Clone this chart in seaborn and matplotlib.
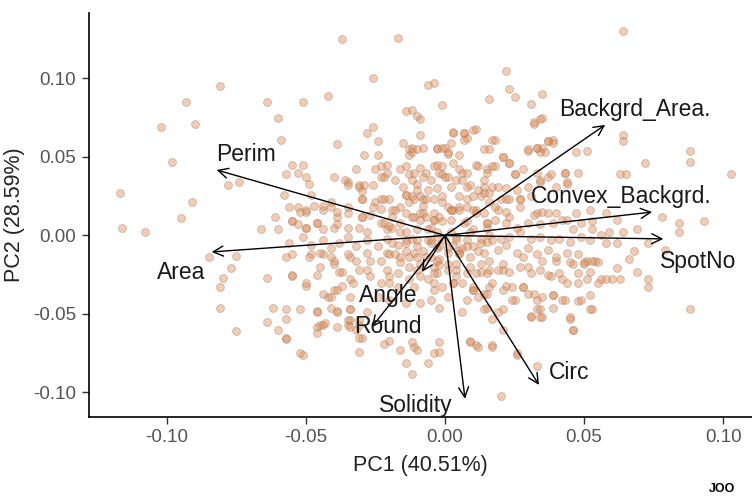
import numpy as np
import pandas as pd
import matplotlib
matplotlib.use("Agg")
import matplotlib.pyplot as plt
import seaborn as sns

# ---- scores (PC1, PC2) x1000 ----
pc1_k = [
 -37,-26,-81,-93,-64,-51,-42,-60,-102,-90,-59,-39,-26,-28,-98,-78,-74,-117,-91,-95,-116,-108,-32,-29,-40,-55,-51,-57,-53,-50,-49,-35,-31,-58,-48,-56,-52,-50,-61,-47,-44,-41,-39,-35,-66,-60,-55,-50,-46,-40,-30,-30,
 -85,-75,-77,-80,-81,-81,-75,-64,-62,-64,-60,-57,-57,-51,-55,-57,-50,-46,-45,-43,-39,-34,-34,-35,-31,-30,-31,-42,-40,-37,-37,-46,-45,-40,-48,-44,-41,-34,-28,-33,-27,
 88,73,73,69,63,60,55,62,52,53,48,46,45,43,39,34,31,34,33,30,26,33,20,17,11,9,-2,-11,-22,-14,-6,-12,6,14,17,10,15,25,22,28,21,37,42,48,52,50,54,45,40,35,30,28,
 64,-17,22,23,25,16,35,31,35,32,-6,-4,-1,-14,-12,-10,-9,3,7,8,10,18,64,64,88,88,103,72,63,65,47,51,30,33,35,37,39,36,34,43,48,44,78,84,93,84,69,-24,-15,-12,-13,-8,-3,0,3,11,15,18,21,23,25,6,-4,-7,-10,-1,8,14,17,22,30,34,37,40,27,-23,-21,-18,-15,-20,-13,-7,-1,3,11,18,23,33,37,42,47,52,58,62,-19,-9,-4,7,15,26,46,53,59,64,
 -9,-10,-13,-12,-3,-1,1,-24,-21,-25,-23,-22,-36,-35,-31,-29,-26,-30,-30,-23,-25,-26,-23,-16,-14,-13,-11,-9,-8,-12,-5,-3,-2,0,-3,-1,1,-14,-12,-10,-8,-6,-4,-18,-16,-14,-12,-9,-7,-4,-2,-53,-50,-44,-41,-39,-35,-30,-27,
 -55,-53,-50,-46,-44,-39,-35,-31,-28,-23,-21,-19,-16,-14,-10,-5,-3,
 32,34,3,7,11,7,17,14,2,1,5,16,21,23,17,15,14,12,8,5,4,1,-1,30,33,37,39,25,28,33,34,38,43,44,2,6,9,12,5,8,13,16,19,22,26,20,23,27,31,
 2,5,10,14,19,22,27,32,35,40,2,8,15,22,30,34,39,44,49,53,
 -56,-51,-48,-44,-41,-38,-35,-32,-28,-24,-21,-17,-14,-10,-6,-3,
 -55,-49,-45,-40,-35,-32,-28,-23,-20,-16,-13,-9,-5,-2,
 -55,-50,-38,-34,-31,-27,-23,-20,-17,-13,-10,-6,-3,-1,-4,
 -44,-41,-39,-34,-24,-20,-14,-9,-5,-2,1,
 -57,-52,-46,-41,-39,-34,-31,-28,-35,-46,-44,-39,-34,-32,
 -57,-46,-31,-52,-20,-16,-12,-10,-4,-2,
 4,9,13,16,20,23,27,31,34,38,41,45,49,52,56,58,
 1,5,10,14,19,22,26,30,33,37,40,44,48,51,55,
 1,4,9,13,16,21,23,27,31,34,38,41,46,50,53,56,58,
 3,6,10,14,17,21,24,28,32,35,39,44,48,51,
 8,12,15,19,21,24,31,33,35,39,42,45,46,52,49,
 9,12,17,26,21,
 73,79,68,62,66,
 -5,0,3,-8,5,-2,8,-12,10,-6,2,-3,6,-10,-14,-18,-4,4,12,15,
 -14,-11,-9,-8,-22,-19,-22,-20,-16,-11,-8,-4,-1,2,5,8,11,10,14,16,15,18,17,13,8,4,-2,-5,-10,-14,
 -19,-21,-16,-11,-7,-3,1,5,9,13,16,-21,-17,-13,-9,-4,1,4,8,11,15,19,-20,-11,-4,3,10,16,
]
pc2_k = [
 125,100,95,85,85,85,89,75,69,71,61,58,69,65,47,32,34,27,21,11,5,2,42,51,37,45,45,39,40,37,33,34,31,26,26,18,15,16,12,19,16,21,12,18,4,4,9,5,8,5,12,23,
 -14,-13,-21,-27,-33,-46,-61,-27,-46,-55,-60,-53,-66,-76,-26,-14,-32,-48,-57,-56,-48,-47,-54,-57,-57,-65,-74,-39,-35,-23,-32,-25,-20,-18,-12,-12,-14,-14,-22,-30,-16,
 -47,-33,-28,-23,-28,-28,-30,-21,-38,-47,-42,-60,-53,-41,-38,-47,-51,-52,-41,-37,-76,-83,-102,-70,-70,-68,-74,-71,-69,-81,-81,-88,-49,-47,-53,-35,-37,-41,-32,-33,-22,-25,-28,-24,-23,-17,-16,-17,-16,-16,-20,-14,
 130,126,105,93,88,87,90,84,75,71,96,97,83,79,80,76,74,65,65,62,67,61,64,60,54,47,39,46,39,39,53,54,54,56,56,60,61,53,53,40,40,33,12,8,9,2,4,60,59,56,51,56,56,56,46,45,42,44,50,46,39,40,44,40,33,39,31,31,31,23,31,34,37,31,23,44,40,35,31,23,21,23,21,16,16,18,12,14,14,10,14,16,14,10,12,10,14,8,5,5,4,4,2,2,
 64,55,55,53,55,56,52,51,45,42,37,37,35,32,32,32,32,28,23,23,21,18,17,42,44,39,40,43,37,35,35,45,40,37,30,25,18,26,25,29,23,29,23,16,18,14,12,14,12,10,12,18,15,19,18,15,14,12,13,
 9,7,5,8,4,7,5,5,2,8,4,5,2,2,4,5,2,
 72,74,66,65,68,61,61,55,59,53,51,55,50,46,44,40,35,44,40,42,35,37,44,55,56,60,59,39,42,40,35,39,40,34,31,35,32,29,25,23,25,27,31,30,29,23,23,23,25,
 16,18,16,14,16,15,18,13,15,14,10,9,8,8,8,7,8,10,8,9,
 -5,-1,-6,-3,-8,-5,-1,-7,-3,-7,-2,-6,-3,-7,-3,-8,
 -12,-14,-11,-16,-12,-16,-11,-16,-12,-17,-14,-18,-14,-19,
 -25,-30,-23,-28,-22,-26,-30,-26,-33,-28,-22,-28,-24,-33,-35,
 -37,-39,-35,-39,-39,-41,-43,-43,-41,-46,-39,
 -47,-47,-49,-46,-49,-47,-54,-49,-54,-58,-57,-58,-58,-60,
 -65,-62,-65,-75,-67,-73,-68,-73,-75,-68,
 -1,2,-2,0,-2,-1,2,-2,-1,-3,-2,-4,-1,-3,0,-5,
 -8,-9,-7,-11,-9,-6,-11,-8,-12,-9,-14,-11,-12,-16,-17,
 -18,-22,-20,-23,-22,-18,-23,-20,-24,-22,-26,-24,-18,-18,-16,-28,-28,
 -30,-30,-35,-37,-30,-35,-33,-33,-37,-39,-38,-30,-30,-28,
 -41,-39,-46,-49,-47,-41,-52,-47,-52,-46,-41,-52,-60,-47,-41,
 -67,-71,-71,-75,-60,
 -5,-9,-10,-5,-15,
 -5,-3,-6,-10,-12,-15,-3,-2,4,4,2,-1,-8,-14,-10,-12,-20,-18,-10,-4,
 26,23,25,19,23,16,8,6,8,12,14,10,9,16,16,18,14,25,27,21,8,10,-3,-5,-7,-3,-7,-3,-3,-5,
 -5,-11,-14,-11,-14,-16,-11,-11,-14,-18,-16,-22,-24,-20,-26,-24,-22,-26,-24,-24,-24,-22,-30,-33,-30,-30,-33,-33,
]

# ---- variable loadings (arrow tips, scaled) ----
var_names = ["Perim", "Area", "Backgrd_Area.", "Convex_Backgrd.", "SpotNo",
             "Circ", "Solidity", "Round", "Angle"]
load_pc1 = [-0.0821, -0.0839, 0.0576, 0.0745, 0.0785, 0.0338, 0.0072, -0.0263, -0.0083]
load_pc2 = [0.0417, -0.0105, 0.0704, 0.0149, -0.0022, -0.0952, -0.1040, -0.0583, -0.0233]
lab_pc1 = [-0.0716, -0.0950, 0.0684, 0.0634, 0.0911, 0.0446, -0.0104, -0.0205, -0.0205]
lab_pc2 = [0.0513, -0.0239, 0.0800, 0.0245, -0.0169, -0.0870, -0.1080, -0.0583, -0.0385]

x_title = "PC1 (40.51%)"
y_title = "PC2 (28.59%)"
ticks = [-0.10, -0.05, 0.00, 0.05, 0.10]
tick_labels = ["-0.10", "-0.05", "0.00", "0.05", "0.10"]
corner_text = "JOO"

n = min(len(pc1_k), len(pc2_k))
df = pd.DataFrame({"PC1": np.array(pc1_k[:n]) / 1000.0,
                   "PC2": np.array(pc2_k[:n]) / 1000.0})

sns.set_theme(style="white")
plt.rcParams["font.family"] = ["Liberation Sans", "DejaVu Sans"]

fig = plt.figure(figsize=(7.52, 4.97), dpi=100)
ax = fig.add_axes([0.118, 0.161, 0.882, 0.813])

sns.scatterplot(data=df, x="PC1", y="PC2", ax=ax, color="#E3874A", alpha=0.42,
                s=32, edgecolor="#9A8070", linewidth=0.7, zorder=2)

for i, name in enumerate(var_names):
    ax.annotate("", xy=(load_pc1[i], load_pc2[i]), xytext=(0, 0),
                arrowprops=dict(arrowstyle="->", color="black", lw=1.0,
                                mutation_scale=18, shrinkA=0, shrinkB=0),
                zorder=3)
    ax.text(lab_pc1[i], lab_pc2[i], name, ha="center", va="center",
            fontsize=16.5, color="#1a1a1a", zorder=4)

ax.set_xlim(-0.1281, 0.1104)
ax.set_ylim(-0.1156, 0.1417)
ax.set_xticks(ticks)
ax.set_xticklabels(tick_labels)
ax.set_yticks(ticks)
ax.set_yticklabels(tick_labels)
ax.tick_params(axis="both", which="both", direction="out", length=5, width=1,
               color="#333333", labelsize=13.5, labelcolor="#555555", pad=4,
               bottom=True, left=True)
for side in ["top", "right"]:
    ax.spines[side].set_visible(False)
for side in ["left", "bottom"]:
    ax.spines[side].set_color("black")
    ax.spines[side].set_linewidth(1.2)
ax.set_xlabel(x_title, fontsize=15.5, color="#222222", labelpad=6)
ax.set_ylabel(y_title, fontsize=15.5, color="#222222", labelpad=6)

fig.text(0.96, 0.016, corner_text, ha="center", va="center", fontsize=9,
         fontweight="bold", color="black")

fig.savefig("out.png", dpi=100)
